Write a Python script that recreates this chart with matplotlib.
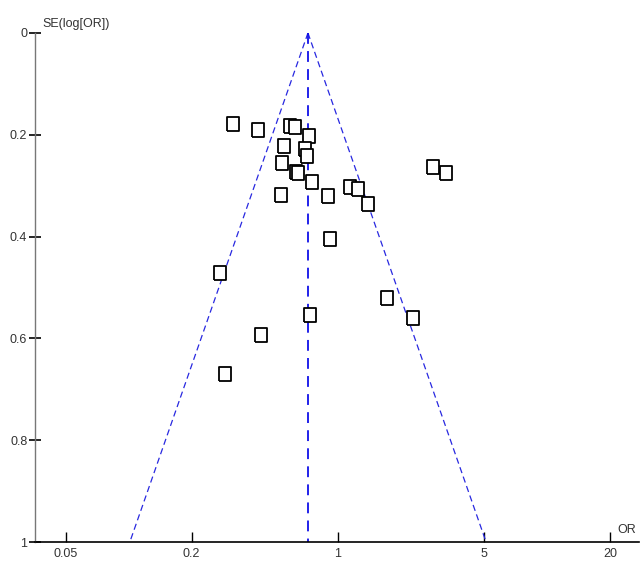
import numpy as np
import matplotlib.pyplot as plt
from matplotlib.ticker import FixedLocator, FixedFormatter, NullLocator

plt.rcParams['font.family'] = ['Liberation Sans', 'DejaVu Sans']

# Study estimates: odds ratio and standard error of log(OR)
odds_ratio = [0.315, 0.414, 0.591, 0.625, 0.729, 0.551, 0.695, 0.710, 0.539,
              0.629, 0.645, 0.750, 0.533, 0.898, 1.144, 1.245, 1.399, 2.84,
              3.29, 0.918, 0.275, 1.713, 2.295, 0.739, 0.428, 0.289]
se_log_or = [0.179, 0.190, 0.183, 0.185, 0.202, 0.222, 0.228, 0.242, 0.256,
             0.274, 0.276, 0.292, 0.318, 0.321, 0.302, 0.307, 0.335, 0.264,
             0.275, 0.404, 0.471, 0.521, 0.559, 0.555, 0.593, 0.669]
pooled_or = 0.72

x_ticks = [0.05, 0.2, 1, 5, 20]
x_ticklabels = ['0.05', '0.2', '1', '5', '20']
y_ticks = [0, 0.2, 0.4, 0.6, 0.8, 1]
y_ticklabels = ['0', '0.2', '0.4', '0.6', '0.8', '1']

fig = plt.figure(figsize=(6.43, 5.64), dpi=100)
ax = fig.add_axes([0.0544, 0.039, 0.9394, 0.9025])

# pseudo 95% confidence limits
se_line = np.array([0.0, 1.0])
ax.plot(pooled_or * np.exp(-1.96 * se_line), se_line, color='#2828e0', lw=0.9,
        dashes=(5, 3))
ax.plot(pooled_or * np.exp(1.96 * se_line), se_line, color='#2828e0', lw=0.9,
        dashes=(5, 3))
ax.plot([pooled_or, pooled_or], [0, 1], color='#1010e8', lw=1.3, dashes=(6, 4))

# slightly tall open square marker
box = [(-0.42, -0.5), (0.42, -0.5), (0.42, 0.5), (-0.42, 0.5), (-0.42, -0.5)]
ax.plot(odds_ratio, se_log_or, linestyle='none', marker=box, markersize=10,
        markerfacecolor='white', markeredgecolor='black', markeredgewidth=1.3)

ax.set_xscale('log')
ax.set_xlim(1 / 28.0, 27.5)
ax.set_ylim(1, 0)

ax.xaxis.set_major_locator(FixedLocator(x_ticks))
ax.xaxis.set_major_formatter(FixedFormatter(x_ticklabels))
ax.xaxis.set_minor_locator(NullLocator())
ax.yaxis.set_major_locator(FixedLocator(y_ticks))
ax.yaxis.set_major_formatter(FixedFormatter(y_ticklabels))

for side in ['top', 'right']:
    ax.spines[side].set_visible(False)
ax.spines['left'].set_color('#777777')
ax.spines['left'].set_linewidth(1.0)
ax.spines['bottom'].set_color('black')
ax.spines['bottom'].set_linewidth(1.2)

ax.tick_params(axis='x', direction='in', length=7, width=1, labelsize=9,
               pad=4, colors='black', labelcolor='#333333')
ax.tick_params(axis='y', direction='inout', length=9, width=1.2, labelsize=9,
               pad=1, colors='black', labelcolor='#333333')

ax.text(0.012, 1.005, 'SE(log[OR])', transform=ax.transAxes, fontsize=9,
        color='#333333', ha='left', va='bottom')
ax.text(0.995, 0.012, 'OR', transform=ax.transAxes, fontsize=9,
        color='#333333', ha='right', va='bottom')

fig.savefig('out.png', dpi=100)
